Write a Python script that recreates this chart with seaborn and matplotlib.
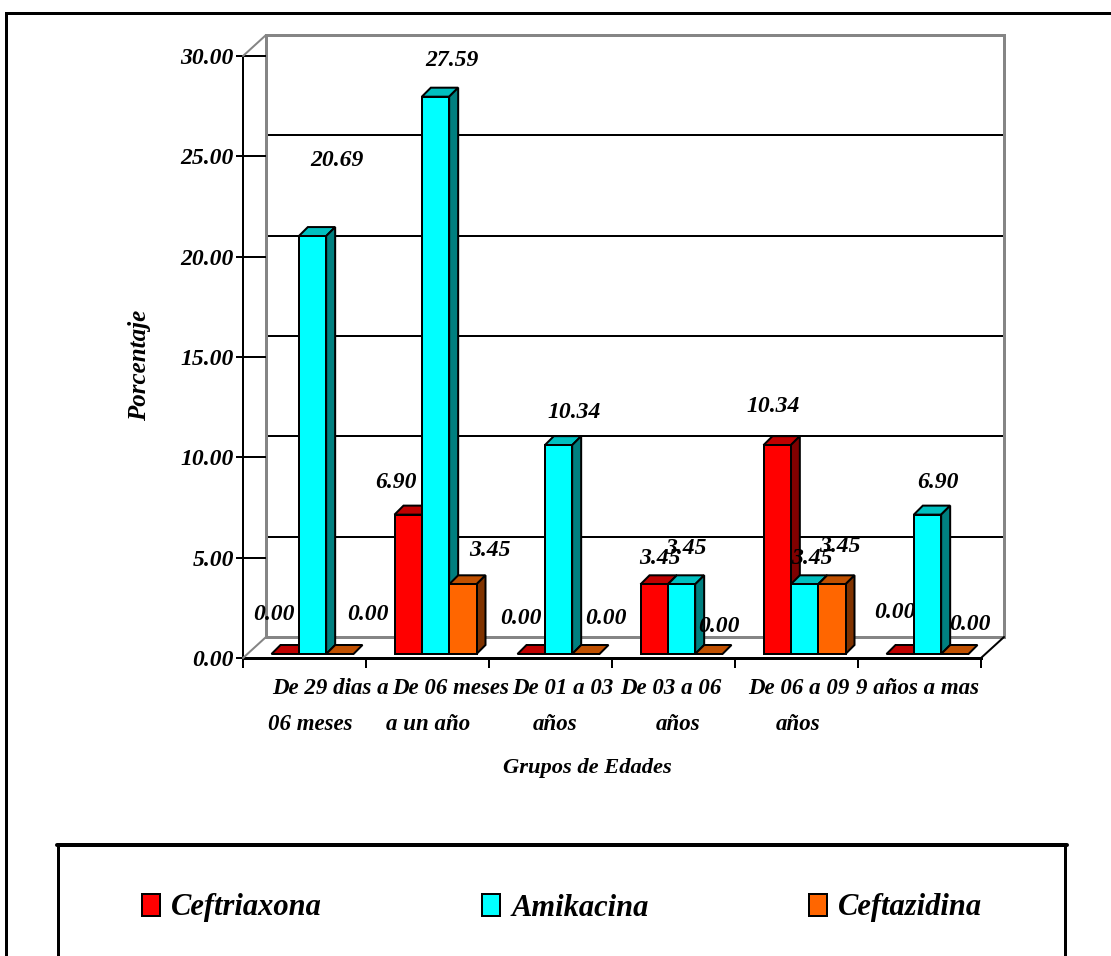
import matplotlib
matplotlib.use("Agg")
import matplotlib.pyplot as plt
import numpy as np
import pandas as pd
import seaborn as sns
from matplotlib.lines import Line2D
from matplotlib.patches import Patch, Polygon
from matplotlib.transforms import Affine2D, IdentityTransform

# Porcentaje de uso de antibioticos por grupo de edad
grupos = ["De 29 dias a 06 meses", "De 06 meses a un año", "De 01 a 03 años",
          "De 03 a 06 años", "De 06 a 09 años", "9 años a mas"]
ceftriaxona = [0.00, 6.90, 0.00, 3.45, 10.34, 0.00]
amikacina = [20.69, 27.59, 10.34, 3.45, 3.45, 6.90]
ceftazidina = [0.00, 3.45, 0.00, 0.00, 3.45, 0.00]
antibioticos = ["Ceftriaxona", "Amikacina", "Ceftazidina"]
marcas_y = [0, 5, 10, 15, 20, 25, 30]

W, H = 1111, 956
DPI = 100

sns.set_theme(style="white")
plt.rcParams["font.family"] = ["Liberation Serif", "DejaVu Serif"]
plt.rcParams["font.weight"] = "bold"
plt.rcParams["font.style"] = "italic"
plt.rcParams["text.color"] = "black"
plt.rcParams["ytick.labelcolor"] = "black"

COLOR_FRENTE = ["#FF0000", "#00FFFF", "#FF6600"]
COLOR_TECHO = ["#C00000", "#00C0C0", "#C05000"]
COLOR_LADO = ["#800000", "#008080", "#803300"]
GRIS = "#858585"


def pts(px_width):
    return px_width * 72 / DPI


def caja(left, top, right, bottom):
    return [left / W, 1 - bottom / H, (right - left) / W, (bottom - top) / H]


# Coordenadas de pagina: origen arriba a la izquierda, en pixeles
pagina = Affine2D().scale(1, -1).translate(0, H)

fig = plt.figure(figsize=(W / DPI, H / DPI), dpi=DPI, facecolor="white")

# Plano frontal: ejes, marcas y paredes del grafico
ax = fig.add_axes(caja(243, 56, 981, 658))
ax.set_xlim(-0.5, 5.5)
ax.set_ylim(0, 30)
ax.set_facecolor("none")
for lado in ("top", "right"):
    ax.spines[lado].set_visible(False)
ax.spines["left"].set_linewidth(pts(2))
ax.spines["bottom"].set_linewidth(pts(3))
ax.spines["left"].set_color("black")
ax.spines["bottom"].set_color("black")
ax.set_yticks(marcas_y)
ax.set_yticklabels([f"{v:.2f}" for v in marcas_y], fontsize=17)
ax.set_xticks(np.arange(-0.5, 6, 1))
ax.set_xticklabels([])
ax.tick_params(axis="y", direction="out", length=5, width=pts(2), color="black", pad=1.5, left=True)
ax.tick_params(axis="x", direction="out", length=7, width=pts(2), color="black", bottom=True)
ax.grid(False)

# Pared del fondo, desplazada por la profundidad
fondo = ax.transData + Affine2D().translate(23, 21)
ax.hlines(marcas_y[1:-1], -0.5, 5.5, colors="black", linewidth=pts(2), transform=fondo, clip_on=False, zorder=1)
ax.plot([-0.5, -0.5, 5.5, 5.5, -0.5], [0, 30, 30, 0, 0], color=GRIS, lw=pts(3), transform=fondo,
        clip_on=False, zorder=1, solid_joinstyle="miter")
ax.hlines(marcas_y, -0.5, -0.5 + 23 / 123, colors="black", linewidth=pts(2), clip_on=False, zorder=2)
for (x0, y0, x1, y1, c) in [(243, 658, 266, 637, GRIS), (243, 56, 266, 35, GRIS), (981, 658, 1004, 637, "black")]:
    fig.add_artist(Line2D([x0, x1], [y0, y1], color=c, lw=pts(2), transform=pagina))

# Barras: plano propio, situado a media profundidad
tabla = pd.DataFrame({
    "grupo": grupos * 3,
    "pct": ceftriaxona + amikacina + ceftazidina,
    "antibiotico": sum(([a] * len(grupos) for a in antibioticos), []),
})
ax_b = fig.add_axes(caja(251, 48, 989, 654))
sns.barplot(data=tabla, x="grupo", y="pct", hue="antibiotico", hue_order=antibioticos,
            palette=COLOR_FRENTE, width=2 / 3, gap=0, dodge=True, edgecolor="black",
            linewidth=pts(2), saturation=1, legend=False, err_kws={"linewidth": 0}, ax=ax_b)
ax_b.set_xlim(-0.5, 5.5)
ax_b.set_ylim(0, 30)
ax_b.axis("off")

# Caras superior y lateral de cada barra, de izquierda a derecha
PROF = 9
barras = sorted(((p, i // len(grupos)) for i, p in enumerate(ax_b.patches)), key=lambda t: t[0].get_x())
for orden, (barra, serie) in enumerate(barras):
    x, w, h = barra.get_x(), barra.get_width(), barra.get_height()
    (x0, y0), (x1, y1) = ax_b.transData.transform([(x, 0), (x + w, h)])
    base_z = 3 + orden * 0.01
    techo = Polygon([(x0, y1), (x1, y1), (x1 + PROF, y1 + PROF), (x0 + PROF, y1 + PROF)], closed=True,
                    facecolor=COLOR_TECHO[serie], edgecolor="black", lw=pts(2),
                    transform=IdentityTransform(), clip_on=False, zorder=base_z, joinstyle="miter")
    ax_b.add_patch(techo)
    if h > 0:
        lado = Polygon([(x1, y0), (x1 + PROF, y0 + PROF), (x1 + PROF, y1 + PROF), (x1, y1)], closed=True,
                       facecolor=COLOR_LADO[serie], edgecolor="black", lw=pts(2),
                       transform=IdentityTransform(), clip_on=False, zorder=base_z, joinstyle="miter")
        ax_b.add_patch(lado)
    barra.set_zorder(base_z + 0.001)
    barra.set_clip_on(False)

# Etiquetas de valor: centro de cada texto en la pagina, por serie y grupo
centros = {
    "Ceftriaxona": [(274, 615), (396, 483), (521, 619), (660, 559), (773, 406), (895, 612)],
    "Amikacina": [(337, 160), (452, 61), (574, 413), (686, 549), (812, 558), (938, 483)],
    "Ceftazidina": [(368, 614), (490, 551), (606, 618), (719, 626), (840, 547), (970, 624)],
}
valores = {"Ceftriaxona": ceftriaxona, "Amikacina": amikacina, "Ceftazidina": ceftazidina}
for nombre in antibioticos:
    for (cx, cy), v in zip(centros[nombre], valores[nombre]):
        ax_b.text(cx, cy, f"{v:.2f}", transform=pagina, ha="center", va="center",
                  fontsize=17, color="black", clip_on=False, zorder=10)

# Rotulos de categoria, linea a linea
lineas = [("De 29 dias a", 330, 689), ("06 meses", 310, 725),
          ("De 06 meses", 451, 689), ("a un año", 428, 725),
          ("De 01 a 03", 563, 689), ("años", 555, 725),
          ("De 03 a 06", 671, 689), ("años", 678, 725),
          ("De 06 a 09", 799, 689), ("años", 798, 725),
          ("9 años a mas", 917, 689)]
for texto, cx, cy in lineas:
    ax_b.text(cx, cy, texto, transform=pagina, ha="center", va="center", fontsize=16.5,
              color="black", clip_on=False, zorder=10)

fig.text(587, 768, "Grupos de Edades", transform=pagina, ha="center", va="center", fontsize=16.2, color="black")
fig.text(140, 365, "Porcentaje", transform=pagina, ha="center", va="center", fontsize=18, rotation=90, color="black")

# Marco exterior
fig.add_artist(Line2D([6, 6, W], [H, 13, 13], color="black", lw=pts(3), transform=pagina,
                      solid_joinstyle="miter"))

# Recuadro de la leyenda, abierto por abajo
fig.add_artist(Line2D([58, 58], [845, H], color="black", lw=pts(3), transform=pagina))
fig.add_artist(Line2D([1065, 1065], [845, H], color="black", lw=pts(3), transform=pagina))
fig.add_artist(Line2D([57, 1067], [845, 845], color="black", lw=pts(4), transform=pagina))

manejadores = [Patch(facecolor=c, edgecolor="black", linewidth=pts(2), label=n)
               for c, n in zip(COLOR_FRENTE, antibioticos)]
fig.legend(handles=manejadores, loc="center", bbox_to_anchor=(562 / W, 1 - 908 / H), ncols=3,
           frameon=False, fontsize=22, handlelength=0.59, handleheight=0.75, handletextpad=0.36,
           columnspacing=5.25, borderpad=0, borderaxespad=0, labelcolor="black")

fig.savefig("out.png", dpi=DPI, facecolor="white")
